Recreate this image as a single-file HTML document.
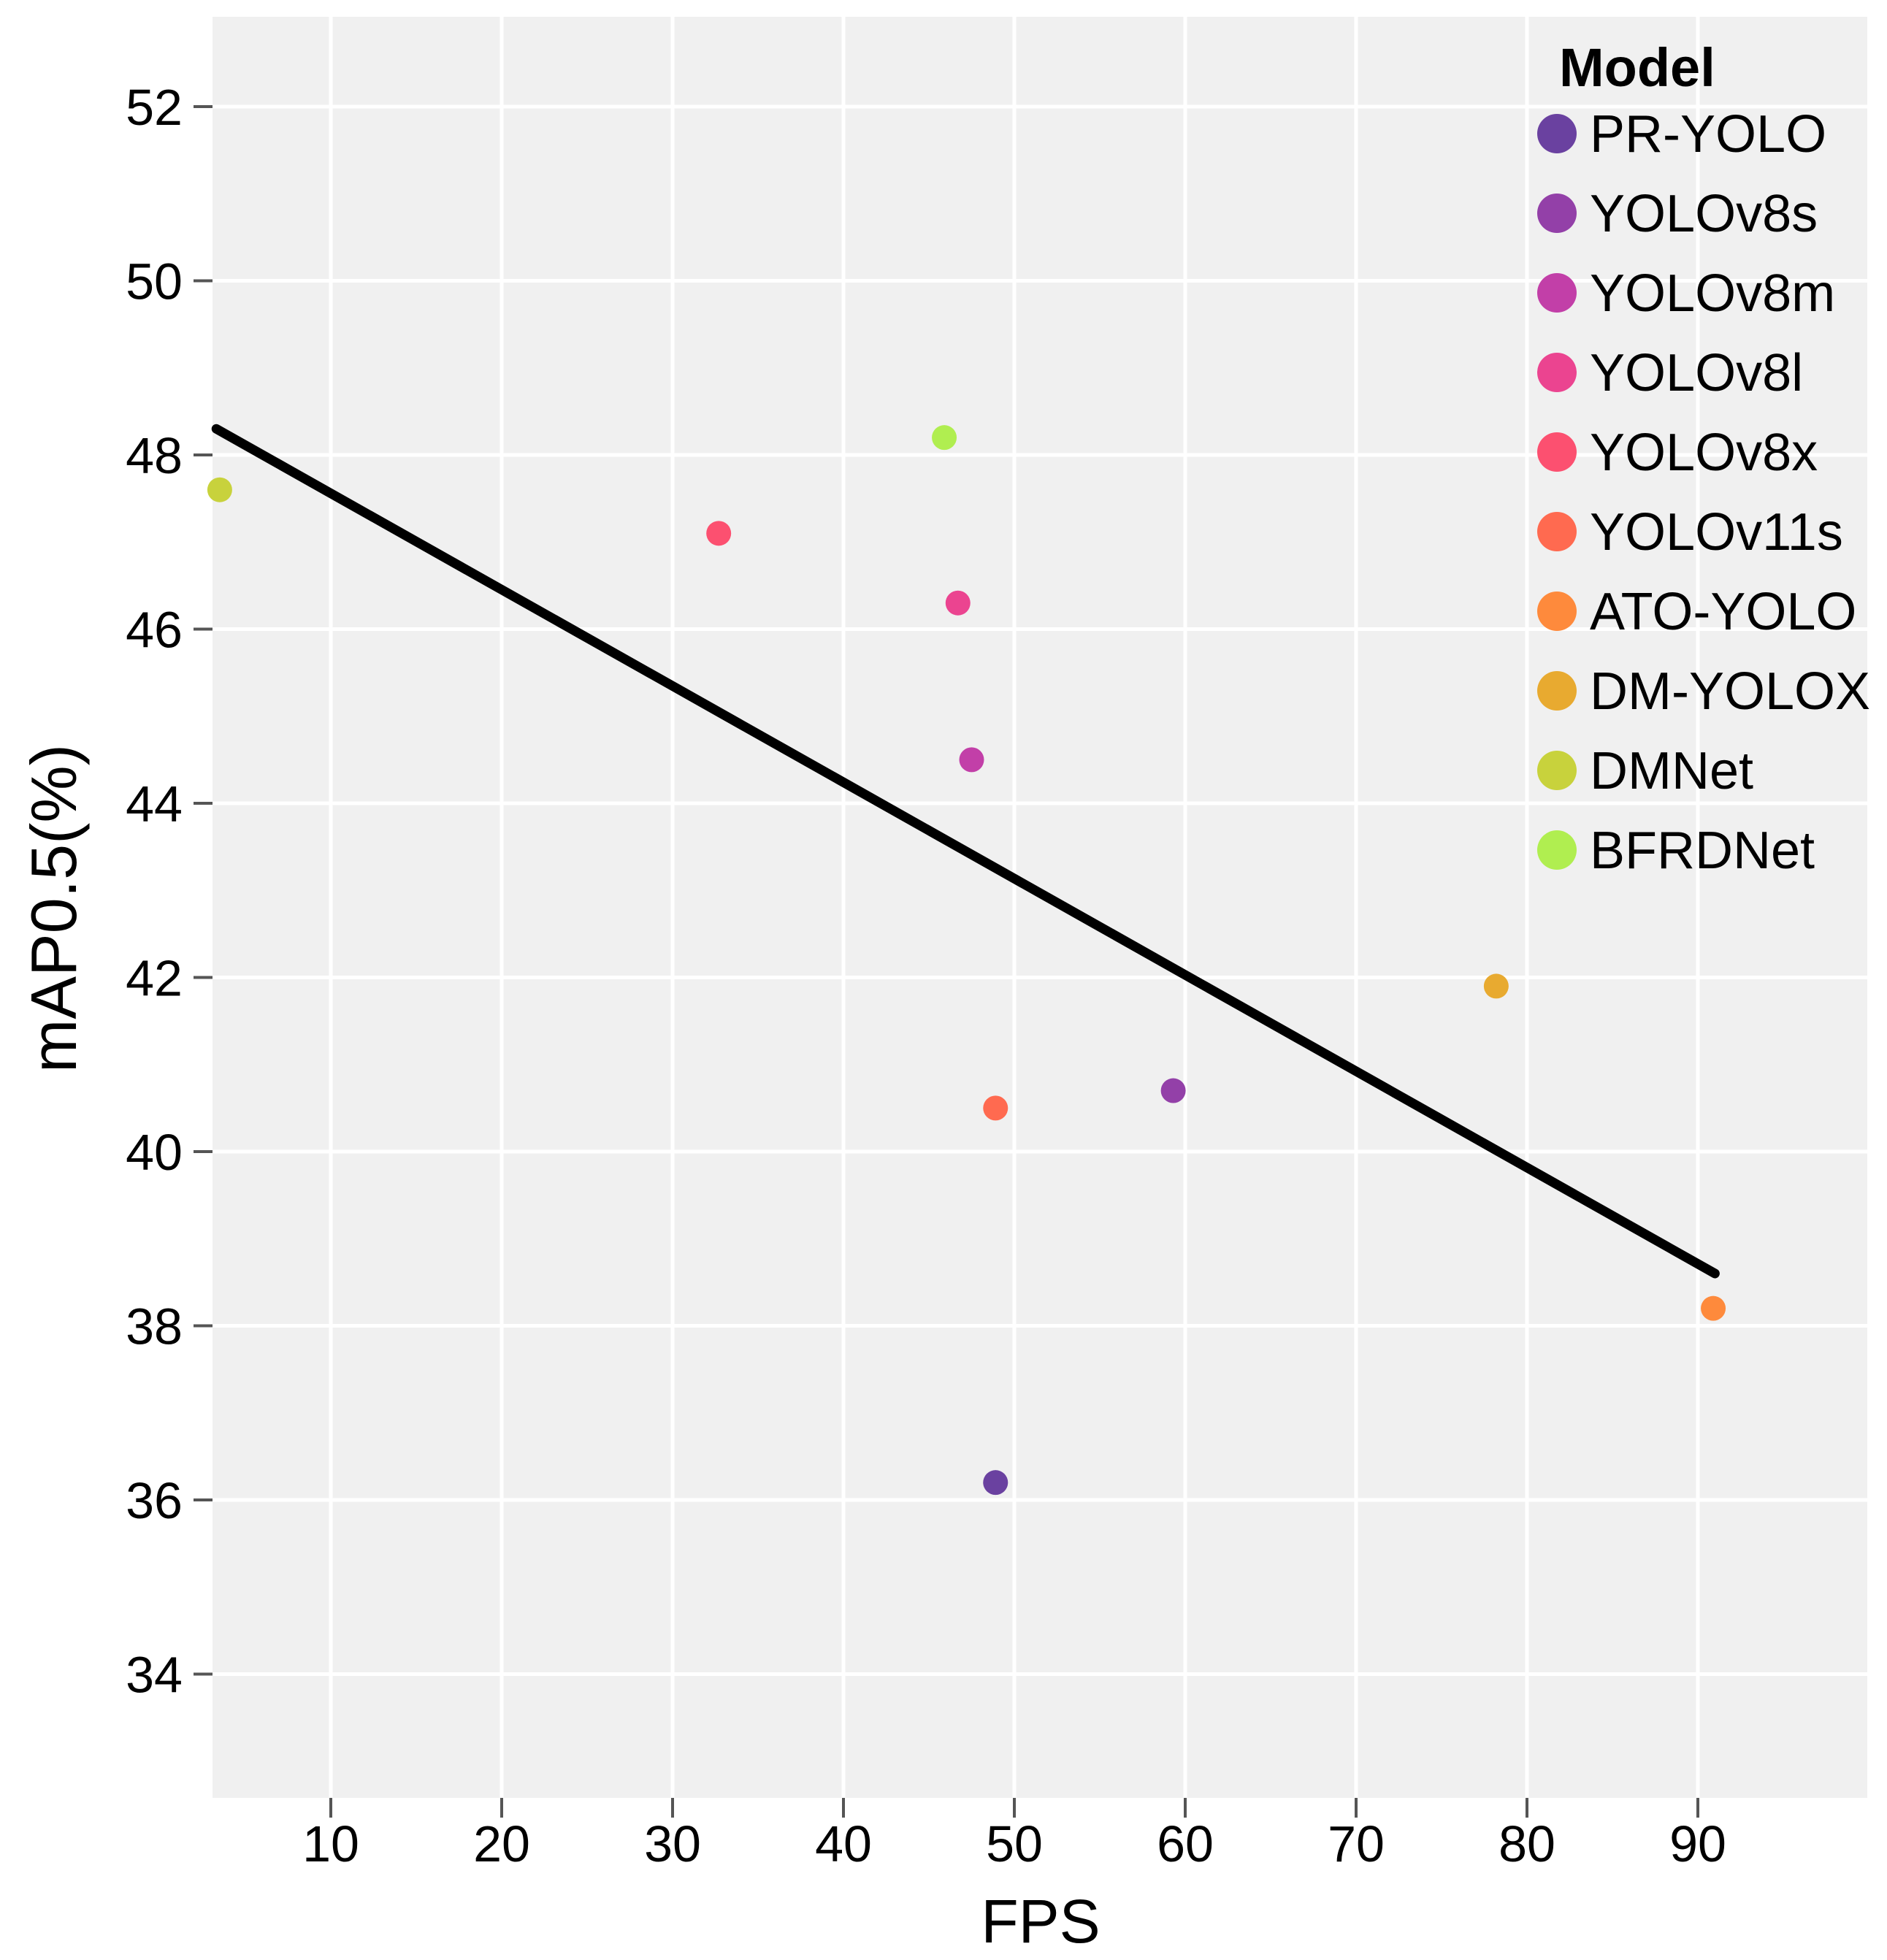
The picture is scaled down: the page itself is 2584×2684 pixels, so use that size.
<!DOCTYPE html>
<html><head><meta charset="utf-8"><style>
html,body{margin:0;padding:0;background:#fff;}
svg{display:block;font-family:"Liberation Sans","DejaVu Sans",sans-serif;}
</style></head><body>
<svg id="chart" width="2584" height="2684" viewBox="0 0 2584 2684" xmlns="http://www.w3.org/2000/svg">
<rect x="291" y="23" width="2266" height="2439" fill="#f0f0f0"/>
<g id="grid"></g>
<g id="axes"></g>
<g id="marks"></g>
<g id="legend"></g>
<text x="1425" y="2660" font-size="84" text-anchor="middle">FPS</text>
<text transform="translate(104,1244) rotate(-90)" font-size="88" text-anchor="middle">mAP0.5(%)</text>
</svg>
<script>
const models = ["PR-YOLO","YOLOv8s","YOLOv8m","YOLOv8l","YOLOv8x","YOLOv11s","ATO-YOLO","DM-YOLOX","DMNet","BFRDNet"];
const fpsValues = [48.9,59.3,47.5,46.7,32.7,48.9,90.9,78.2,3.5,45.9];
const mapValues = [36.2,40.7,44.5,46.3,47.1,40.5,38.2,41.9,47.6,48.2];
const colors = ["#6a41a0","#9340a8","#c23fa8","#eb4490","#fc5070","#ff6a50","#fe8a3c","#e8aa30","#c8d23c","#b0ee50"];
const xTicks = [10,20,30,40,50,60,70,80,90];
const yTicks = [34,36,38,40,42,44,46,48,50,52];
const trendX = [3.3,91];
const trendY = [48.3,38.6];

const NS="http://www.w3.org/2000/svg";
const L=291,R=2557,T=23,B=2462;
function xs(v){return 219+(v-0)*23.4;}
function ys(v){return 146+(52-v)*119.25;}
function mk(tag,attrs,parent,text){const e=document.createElementNS(NS,tag);for(const k in attrs)e.setAttribute(k,attrs[k]);if(text!==undefined)e.textContent=text;parent.appendChild(e);return e;}
const grid=document.getElementById('grid'),axes=document.getElementById('axes'),marks=document.getElementById('marks'),legend=document.getElementById('legend');
xTicks.forEach(t=>{
  const x=xs(t);
  const g=mk('line',{x1:x,x2:x,y1:T,y2:B,stroke:'#fff','stroke-width':5},grid);
  
  
  const tk=mk('line',{x1:x,x2:x,y1:B,y2:B+27,stroke:'#555','stroke-width':4},axes);
  
  
  const lb=mk('text',{x:x,y:2549,'font-size':70,'text-anchor':'middle'},axes,String(t));
  
  
});
yTicks.forEach(t=>{
  const y=ys(t);
  const g=mk('line',{x1:L,x2:R,y1:y,y2:y,stroke:'#fff','stroke-width':5},grid);
  
  
  const tk=mk('line',{x1:265,x2:L,y1:y,y2:y,stroke:'#555','stroke-width':4},axes);
  
  
  const lb=mk('text',{x:250,y:y+25,'font-size':70,'text-anchor':'end'},axes,String(t));
  
  
});
const tl=mk('line',{x1:xs(trendX[0]),y1:ys(trendY[0]),x2:xs(trendX[1]),y2:ys(trendY[1]),stroke:'#000','stroke-width':13,'stroke-linecap':'round'},marks);


models.forEach((m,i)=>{
  const c=mk('circle',{cx:xs(fpsValues[i]),cy:ys(mapValues[i]),r:17,fill:colors[i]},marks);
  
  
});
const lt=mk('text',{x:2135,y:118,'font-size':74,'font-weight':'bold'},legend,'Model');


models.forEach((m,i)=>{
  const y=183+i*109;
  const c=mk('circle',{cx:2132,cy:y,r:27,fill:colors[i]},legend);
  
  
  const t=mk('text',{x:2177,y:y+25,'font-size':72},legend,m);
  
  
});
</script>
</body></html>
